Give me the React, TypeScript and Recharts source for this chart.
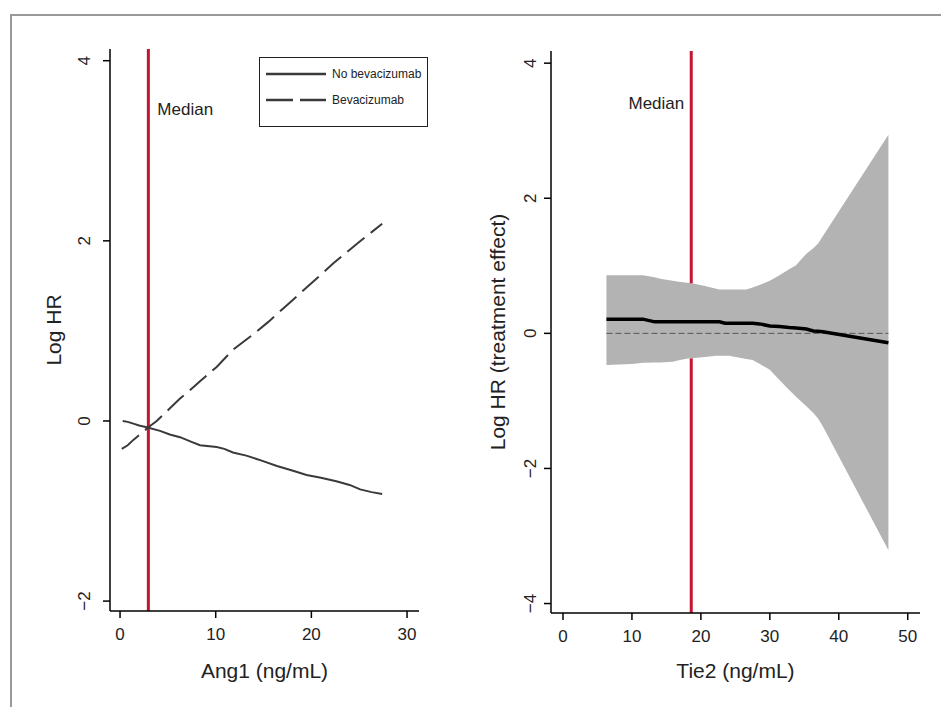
import React from 'react';
import { ComposedChart, Line, Area, XAxis, YAxis, ReferenceLine, Legend } from 'recharts';

const FONT = '"Liberation Sans", Arial, Helvetica, sans-serif';
const TEXT = '#222';
const RED = '#c41432';
const AXIS = '#000';

// left panel: Ang1, log HR by arm
const ang1NoBevX = [0.28, 0.8, 1.39, 2.0, 2.79, 4.18, 5.2, 6.27, 7.4, 8.36, 10.1, 10.9, 11.8, 13.2, 14.8, 16.4, 18.0, 19.5, 21.0, 22.6, 24.0, 25.1, 26.3, 27.4];
const ang1NoBevY = [0, -0.01, -0.03, -0.05, -0.07, -0.11, -0.15, -0.18, -0.23, -0.27, -0.29, -0.31, -0.35, -0.385, -0.44, -0.5, -0.55, -0.6, -0.63, -0.67, -0.71, -0.76, -0.79, -0.81];
const ang1BevX = [0.18, 0.8, 1.39, 2.2, 2.96, 3.83, 5.0, 6.27, 7.3, 8.36, 10.1, 11.8, 13.9, 15.5, 17.06, 19.7, 22.3, 24.8, 27.4];
const ang1BevY = [-0.31, -0.27, -0.21, -0.14, -0.07, 0, 0.12, 0.25, 0.34, 0.44, 0.6, 0.79, 0.96, 1.1, 1.25, 1.5, 1.75, 1.97, 2.19];
const ang1Median = 2.96;
const ang1XTicks = [0, 10, 20, 30];
const ang1YTicks = [-2, 0, 2, 4];
const seriesNames = ['No bevacizumab', 'Bevacizumab'];

// right panel: Tie2, treatment effect with band
const tie2X = [6.3, 10.0, 11.6, 13.3, 14.1, 15.9, 16.8, 18.3, 18.7, 20.6, 22.2, 22.7, 23.5, 24.1, 26.0, 26.6, 27.5, 28.5, 30.0, 31.4, 32.8, 33.8, 35.3, 36.3, 37.0, 37.7, 47.2];
const tie2Lower = [-0.47, -0.455, -0.435, -0.43, -0.43, -0.42, -0.4, -0.37, -0.37, -0.35, -0.33, -0.33, -0.33, -0.33, -0.37, -0.38, -0.395, -0.45, -0.54, -0.69, -0.84, -0.94, -1.08, -1.18, -1.26, -1.38, -3.21];
const tie2Upper = [0.86, 0.86, 0.86, 0.83, 0.81, 0.78, 0.765, 0.745, 0.74, 0.7, 0.66, 0.65, 0.65, 0.65, 0.65, 0.65, 0.68, 0.715, 0.78, 0.86, 0.95, 1.01, 1.18, 1.26, 1.33, 1.44, 2.94];
const tie2Est = [0.21, 0.21, 0.21, 0.17, 0.17, 0.17, 0.17, 0.17, 0.17, 0.17, 0.17, 0.17, 0.15, 0.15, 0.15, 0.15, 0.15, 0.14, 0.11, 0.1, 0.085, 0.08, 0.065, 0.035, 0.03, 0.025, -0.14];
const tie2Median = 18.6;
const tie2XTicks = [0, 10, 20, 30, 40, 50];
const tie2YTicks = [-4, -2, 0, 2, 4];
const tie2XDomain = [-1.74, 51.78];
const tie2YDomain = [-4.14, 4.18];

const ang1NoBev = ang1NoBevX.map((x, i) => ({ x, y: ang1NoBevY[i] }));
const ang1Bev = ang1BevX.map((x, i) => ({ x, y: ang1BevY[i] }));
const tie2Data = tie2X.map((x, i) => ({ x, band: [tie2Lower[i], tie2Upper[i]], est: tie2Est[i] }));

// band edge at a given x, so the median marker is hidden behind the band like in the original
const bandAt = (ys: number[], x: number) => {
  for (let i = 1; i < tie2X.length; i++) {
    if (x <= tie2X[i]) {
      const t = (x - tie2X[i - 1]) / (tie2X[i] - tie2X[i - 1]);
      return ys[i - 1] + t * (ys[i] - ys[i - 1]);
    }
  }
  return ys[ys.length - 1];
};
const medianTop = bandAt(tie2Upper, tie2Median);
const medianBottom = bandAt(tie2Lower, tie2Median);

const fmt = (v: number) => (v < 0 ? `\u2212${-v}` : `${v}`);

const textProps = { fill: TEXT, fontFamily: FONT };

const makeYTick = (shift: number) => (props: any) => {
  const { x, y, payload } = props;
  const cx = x - shift;
  return (
    <text x={cx} y={y} transform={`rotate(-90, ${cx}, ${y})`} textAnchor="middle" dominantBaseline="central" fontSize={17} {...textProps}>
      {fmt(payload.value)}
    </text>
  );
};

const XTick = (props: any) => {
  const { x, y, payload } = props;
  return (
    <text x={x} y={y + 16} textAnchor="middle" dominantBaseline="central" fontSize={17} {...textProps}>
      {fmt(payload.value)}
    </text>
  );
};

const yLabel = (text: string, dx: number) => (props: any) => {
  const vb = props.viewBox;
  const cx = vb.x + vb.width - dx;
  const cy = vb.y + vb.height / 2;
  return (
    <text x={cx} y={cy} transform={`rotate(-90, ${cx}, ${cy})`} textAnchor="middle" dominantBaseline="central" fontSize={21} {...textProps}>
      {text}
    </text>
  );
};

const xLabel = (text: string, dy: number) => (props: any) => {
  const vb = props.viewBox;
  return (
    <text x={vb.x + vb.width / 2} y={vb.y + dy} textAnchor="middle" dominantBaseline="central" fontSize={21} {...textProps}>
      {text}
    </text>
  );
};

const medianLabel = (dx: number, dy: number, anchor: string) => (props: any) => {
  const vb = props.viewBox;
  return (
    <text x={vb.x + dx} y={vb.y + dy} textAnchor={anchor} dominantBaseline="central" fontSize={17} {...textProps}>
      Median
    </text>
  );
};

const renderLegend = (props: any) => {
  const payload = [...(props.payload || [])].sort(
    (a: any, b: any) => seriesNames.indexOf(a.value) - seriesNames.indexOf(b.value)
  );
  return (
    <div style={{ boxSizing: 'border-box', width: 169, height: 70, border: '1.5px solid #222', background: '#fff', position: 'relative', fontFamily: FONT }}>
      {payload.map((entry: any, i: number) => (
        <div key={entry.value} style={{ position: 'absolute', left: 6, top: 8 + i * 26, height: 16, display: 'flex', alignItems: 'center' }}>
          <svg width={60} height={16} style={{ display: 'block' }}>
            <line x1={0} y1={8} x2={60} y2={8} stroke="#3a3a3a" strokeWidth={2.5} strokeDasharray={i === 1 ? '27 7' : undefined} />
          </svg>
          <span style={{ marginLeft: 6, fontSize: 12, color: TEXT, whiteSpace: 'nowrap' }}>{entry.value}</span>
        </div>
      ))}
    </div>
  );
};

const axisCommon = {
  axisLine: { stroke: AXIS, strokeWidth: 1.5 },
  tickLine: { stroke: AXIS, strokeWidth: 1.5 },
  tickSize: 7,
  tickMargin: 0,
  allowDataOverflow: true,
};

const App = () => {
  return (
    <div style={{ position: 'absolute', left: 0, top: 0, width: 941, height: 707, background: '#fff', overflow: 'hidden' }}>
      <div style={{ position: 'absolute', left: 10, top: 14, right: -4, bottom: -4, borderTop: '2px solid #999', borderLeft: '2px solid #999' }} />

      <div style={{ position: 'absolute', left: 0, top: 0 }}>
        <ComposedChart width={470} height={707} margin={{ top: 49, right: 51, bottom: 36, left: 50 }}>
          <XAxis
            type="number"
            dataKey="x"
            domain={[-1.05, 31.25]}
            ticks={ang1XTicks}
            height={60}
            tick={XTick}
            label={{ content: xLabel('Ang1 (ng/mL)', 59) }}
            {...axisCommon}
          />
          <YAxis
            type="number"
            domain={[-2.11, 4.13]}
            ticks={ang1YTicks}
            width={60}
            tick={makeYTick(18)}
            label={{ content: yLabel('Log HR', 57) }}
            {...axisCommon}
          />
          <ReferenceLine x={ang1Median} stroke={RED} strokeWidth={3} label={{ content: medianLabel(9, 60, 'start') }} />
          <Line data={ang1NoBev} dataKey="y" name={seriesNames[0]} type="linear" stroke="#3a3a3a" strokeWidth={2} dot={false} isAnimationActive={false} />
          <Line data={ang1Bev} dataKey="y" name={seriesNames[1]} type="linear" stroke="#3a3a3a" strokeWidth={2} strokeDasharray="22 8" dot={false} isAnimationActive={false} />
          <Legend
            layout="vertical"
            align="center"
            verticalAlign="middle"
            content={renderLegend}
            wrapperStyle={{ left: 259, top: 57, width: 169, height: 70, margin: 0 }}
          />
        </ComposedChart>
      </div>

      <div style={{ position: 'absolute', left: 470, top: 0 }}>
        <ComposedChart width={471} height={707} data={tie2Data} margin={{ top: 51, right: 21, bottom: 34, left: 21 }}>
          <XAxis
            type="number"
            dataKey="x"
            domain={tie2XDomain}
            ticks={tie2XTicks}
            height={60}
            tick={XTick}
            label={{ content: xLabel('Tie2 (ng/mL)', 57) }}
            {...axisCommon}
          />
          <YAxis
            type="number"
            domain={tie2YDomain}
            ticks={tie2YTicks}
            width={60}
            tick={makeYTick(13)}
            label={{ content: yLabel('Log HR (treatment effect)', 54) }}
            {...axisCommon}
          />
          <Area dataKey="band" type="linear" stroke="none" fill="#b3b3b3" fillOpacity={1} isAnimationActive={false} />
          <ReferenceLine
            segment={[{ x: tie2Median, y: tie2YDomain[1] }, { x: tie2Median, y: medianTop }]}
            stroke={RED}
            strokeWidth={3}
          />
          <ReferenceLine
            segment={[{ x: tie2Median, y: medianBottom }, { x: tie2Median, y: tie2YDomain[0] }]}
            stroke={RED}
            strokeWidth={3}
          />
          <ReferenceLine
            segment={[{ x: tie2X[0], y: 0 }, { x: tie2X[tie2X.length - 1], y: 0 }]}
            stroke="#555"
            strokeWidth={1}
            strokeDasharray="6 3"
          />
          <ReferenceLine x={tie2Median} stroke="none" label={{ content: medianLabel(-7, 52, 'end') }} />
          <Line dataKey="est" type="linear" stroke="#000" strokeWidth={3.5} dot={false} isAnimationActive={false} />
        </ComposedChart>
      </div>
    </div>
  );
};

export default App;
